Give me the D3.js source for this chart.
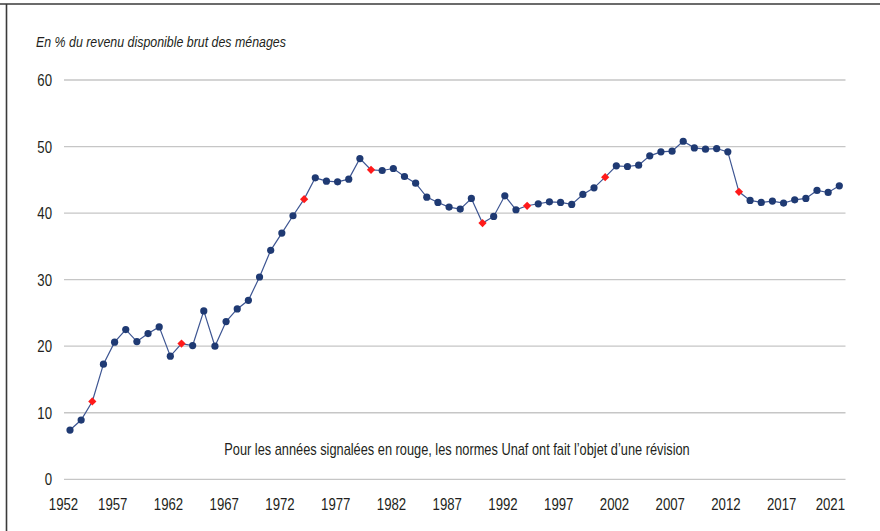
<!DOCTYPE html>
<html>
<head>
    <meta charset="utf-8">
    <title>Taux d'effort</title>
    <style>
        body {
            margin: 0;
            background-color: white;
        }
        text {
            font-family: "Liberation Sans", Arial, sans-serif;
            fill: #231f20;
        }
        .grid line {
            stroke: #c6c6c6;
            stroke-width: 1.3px;
        }
        .series-line {
            fill: none;
            stroke: #3d5592;
            stroke-width: 1.2px;
        }
        .dot {
            fill: #1f3a73;
        }
        .dot-red {
            fill: #ff1a1a;
        }
    </style>
</head>
<body>
    <svg id="chart" width="880" height="531"></svg>

    <script src="https://cdnjs.cloudflare.com/ajax/libs/d3/7.8.5/d3.min.js"></script>
    <script>
        // Data: 1952 to 2021
        const years = d3.range(1952, 2022);
        const values = [
            7.4, 8.9, 11.7, 17.3, 20.6, 22.5, 20.7, 21.9, 22.9, 18.5,
            20.4, 20.1, 25.3, 20.0, 23.7, 25.6, 26.9, 30.4, 34.4, 37.0,
            39.6, 42.1, 45.3, 44.8, 44.7, 45.1, 48.2, 46.5, 46.4, 46.7,
            45.5, 44.5, 42.4, 41.6, 40.9, 40.6, 42.2, 38.5, 39.5, 42.6,
            40.5, 41.1, 41.4, 41.7, 41.6, 41.3, 42.8, 43.8, 45.4, 47.1,
            47.0, 47.2, 48.6, 49.2, 49.3, 50.8, 49.8, 49.6, 49.7, 49.2,
            43.2, 41.9, 41.6, 41.8, 41.5, 42.0, 42.2, 43.4, 43.1, 44.1
        ];
        // Years where the Unaf norms were revised (red markers)
        const revisedYears = [1954, 1962, 1973, 1979, 1989, 1993, 2000, 2012];
        const tickYears = [1952, 1957, 1962, 1967, 1972, 1977, 1982, 1987, 1992, 1997, 2002, 2007, 2012, 2017, 2021];
        const yTicks = [0, 10, 20, 30, 40, 50, 60];

        const data = years.map((year, i) => ({ year: year, value: values[i] }));

        // no condensed font installed, so squeeze the text horizontally
        const squeeze = 0.8;
        const place = (px, py) => `translate(${px},${py}) scale(${squeeze},1)`;

        const svg = d3.select("#chart");

        // Frame: top and left rules
        svg.append("line")
            .attr("x1", 0).attr("x2", 880)
            .attr("y1", 4).attr("y2", 4)
            .attr("stroke", "#3a3a3a").attr("stroke-width", 1.6);
        svg.append("line")
            .attr("x1", 6.5).attr("x2", 6.5)
            .attr("y1", 4).attr("y2", 531)
            .attr("stroke", "#3a3a3a").attr("stroke-width", 1.6);

        const x = d3.scaleLinear()
            .domain([1952, 2021])
            .range([70, 839.3]);

        const y = d3.scaleLinear()
            .domain([0, 60])
            .range([479.3, 80]);

        // Horizontal gridlines
        const grid = svg.append("g").attr("class", "grid");
        grid.selectAll("line")
            .data(yTicks)
            .join("line")
            .attr("x1", 64)
            .attr("x2", 845.5)
            .attr("y1", d => y(d))
            .attr("y2", d => y(d));

        // Y axis labels
        svg.append("g")
            .selectAll("text")
            .data(yTicks)
            .join("text")
            .attr("transform", d => place(52, y(d)))
            .attr("dy", "0.36em")
            .attr("text-anchor", "end")
            .attr("font-size", 16.5)
            .text(d => d);

        // X axis labels (slightly shifted left of their points, as in the source)
        svg.append("g")
            .selectAll("text")
            .data(tickYears)
            .join("text")
            .attr("transform", (d, i) => {
                let lx = x(d) - 13;
                if (i === 0) lx = x(d) - 6.5;
                if (i === tickYears.length - 1) lx = x(d) - 9;
                return place(lx, 510);
            })
            .attr("text-anchor", "middle")
            .attr("font-size", 16.5)
            .text(d => d);

        // Title
        svg.append("text")
            .attr("transform", place(36, 47))
            .attr("font-size", 15.5)
            .attr("font-style", "italic")
            .text("En % du revenu disponible brut des ménages");

        // Note
        svg.append("text")
            .attr("transform", place(457, 455))
            .attr("text-anchor", "middle")
            .attr("font-size", 16)
            .text("Pour les années signalées en rouge, les normes Unaf ont fait l’objet d’une révision");

        // Series line
        const line = d3.line()
            .x(d => x(d.year))
            .y(d => y(d.value));

        svg.append("path")
            .datum(data)
            .attr("class", "series-line")
            .attr("d", line);

        // Markers
        svg.append("g")
            .selectAll("circle")
            .data(data.filter(d => !revisedYears.includes(d.year)))
            .join("circle")
            .attr("class", "dot")
            .attr("cx", d => x(d.year))
            .attr("cy", d => y(d.value))
            .attr("r", 3.6);

        svg.append("g")
            .selectAll("path")
            .data(data.filter(d => revisedYears.includes(d.year)))
            .join("path")
            .attr("class", "dot-red")
            .attr("transform", d => `translate(${x(d.year)},${y(d.value)}) rotate(45)`)
            .attr("d", d3.symbol(d3.symbolSquare, 34));
    </script>
</body>
</html>
